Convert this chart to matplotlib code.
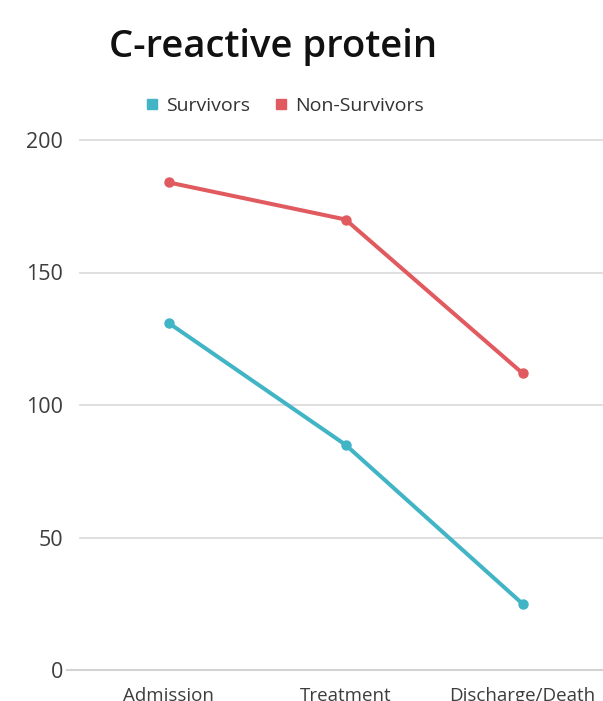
'''
 C-reactive protein levels of survivors and non-survivors over the hospital stay
'''

import matplotlib.pyplot as plt
from matplotlib.lines import Line2D

plt.rcParams['font.family'] = ['Open Sans', 'DejaVu Sans']

stages = ['Admission', 'Treatment', 'Discharge/Death']
survivors = [131, 85, 25]
non_survivors = [184, 170, 112]
y_ticks = [0, 50, 100, 150, 200]

BLUE = '#41B4C6'
RED = '#E15A5F'

fig = plt.figure(figsize=(6.03, 7.01), dpi=100)
# axes run past the right edge, so the last label gets cut like a cropped export
ax = fig.add_axes([80 / 603, 31 / 701, 531 / 603, 530 / 701])

positions = list(range(len(stages)))
ax.plot(positions, survivors, color=BLUE, linewidth=2.9, marker='o',
        markersize=6.5, solid_capstyle='round', zorder=3)
ax.plot(positions, non_survivors, color=RED, linewidth=2.9, marker='o',
        markersize=6.5, solid_capstyle='round', zorder=3)

ax.set_xlim(-0.5, 2.5)
ax.set_ylim(0, 200)
ax.set_xticks(positions)
ax.set_xticklabels(stages)
ax.set_yticks(y_ticks)
ax.set_yticklabels([str(v) for v in y_ticks])

for spine in ax.spines.values():
    spine.set_visible(False)
ax.tick_params(length=0, labelcolor='#3d3d3d')
ax.tick_params(axis='y', pad=12, labelsize=15.5)
ax.tick_params(axis='x', pad=12, labelsize=13.5)

for v in y_ticks[1:]:
    ax.axhline(v, color='#dcdcdc', linewidth=1.3, zorder=1, clip_on=False)
# the zero line reaches a little further left than the others
ax.axhline(0, xmin=-13 / 531, xmax=1, color='#d2d2d2', linewidth=1.5,
           zorder=1, clip_on=False)

fig.text(273 / 603, 1 - 57 / 701, 'C-reactive protein', ha='center',
         va='baseline', fontsize=27.5, fontweight='semibold', color='#111111')

handles = [
    Line2D([], [], color=BLUE, marker='s', linestyle='none', markersize=7),
    Line2D([], [], color=RED, marker='s', linestyle='none', markersize=7),
]
fig.legend(handles, ['Survivors', 'Non-Survivors'], loc='center',
           bbox_to_anchor=(285 / 603, 1 - 106 / 701), ncol=2, frameon=False,
           fontsize=14, handlelength=0.6, handletextpad=0.45,
           columnspacing=1.25, labelcolor='#333333')

fig.savefig('out.png', dpi=100)
